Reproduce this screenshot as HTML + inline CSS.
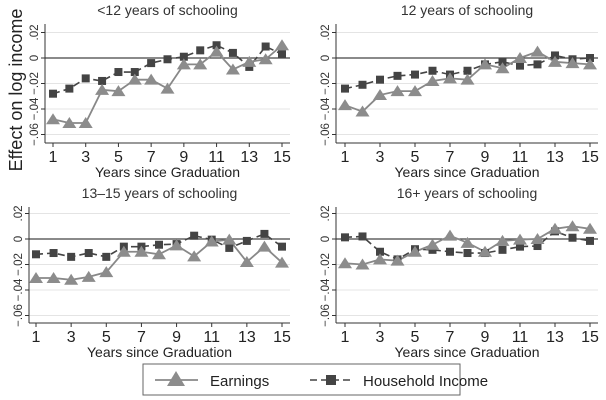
<!DOCTYPE html>
<html><head><meta charset="utf-8"><style>
html,body{margin:0;padding:0;background:#fff}
svg{display:block;font-family:"Liberation Sans",sans-serif}
</style></head><body>
<svg id="c" width="606" height="400"></svg>
<script>
const years=[1,2,3,4,5,6,7,8,9,10,11,12,13,14,15];
const xTicks=[1,3,5,7,9,11,13,15];
const yTicks=[0.02,0,-0.02,-0.04,-0.06];
const yTickLabels=[".02","0","-.02","-.04","-.06"];
const titles=["<12 years of schooling","12 years of schooling","13–15 years of schooling","16+ years of schooling"];
const earn1=[-4.8,-5.1,-5.1,-2.5,-2.6,-1.7,-1.7,-2.4,-0.5,-0.5,0.5,-0.9,-0.3,-0.1,1.0];
const hh1=[-2.8,-2.4,-1.6,-1.8,-1.1,-1.1,-0.4,-0.1,0.1,0.6,1.0,0.4,-0.7,0.9,0.3];
const earn2=[-3.7,-4.2,-2.9,-2.6,-2.6,-1.8,-1.6,-1.7,-0.5,-0.8,0,0.5,-0.3,-0.4,-0.5];
const hh2=[-2.4,-2.1,-1.7,-1.4,-1.3,-1.0,-1.3,-1.0,-0.5,-0.3,-0.6,-0.5,0.2,-0.1,0.0];
const earn3=[-3.06,-3.06,-3.2,-2.97,-2.6,-1.0,-1.0,-1.2,-0.5,-1.36,-0.2,-0.05,-1.8,-0.6,-1.85];
const hh3=[-1.2,-1.1,-1.4,-1.1,-1.4,-0.6,-0.6,-0.45,-0.4,0.26,-0.05,-0.7,-0.15,0.4,-0.6];
const earn4=[-1.9,-2.0,-1.6,-1.7,-1.0,-0.45,0.26,-0.3,-1.0,-0.15,-0.05,0,0.8,1.0,0.8];
const hh4=[0.13,0.2,-1.0,-1.6,-0.8,-0.85,-1.0,-1.1,-1.1,-0.85,-0.6,-0.55,0.6,0.1,-0.15];
const earnSeries=[earn1,earn2,earn3,earn4];
const hhSeries=[hh1,hh2,hh3,hh4];
const panels=[{ax:45,x1:53,x15:282,y0:58,top:24,bot:143},{ax:336,x1:345,x15:590,y0:58,top:24,bot:143},
{ax:29,x1:36,x15:282,y0:239,top:207,bot:323},{ax:336,x1:345,x15:590,y0:239,top:207,bot:323}];
const NS="http://www.w3.org/2000/svg";const svg=document.getElementById('c');
function el(t,a,p){const e=document.createElementNS(NS,t);for(const k in a)e.setAttribute(k,a[k]);(p||svg).appendChild(e);return e;}
const per=12.75/0.01;
panels.forEach((P,i)=>{
 const g=el('g',{});
 
 
 const X=v=>P.x1+(v-1)*(P.x15-P.x1)/14;
 const Y=v=>P.y0-v*per;
 const right=P.x15+8;
 const t=el('text',{x:(P.ax+right)/2,y:P.top-9,'text-anchor':'middle','font-size':14,fill:'#333'},g);t.textContent=titles[i];
 
 yTicks.forEach((v,k)=>{
  if(v!==0)el('line',{x1:P.ax,x2:right,y1:Y(v),y2:Y(v),stroke:'#e4e4e4','stroke-width':1},g);
  el('line',{x1:P.ax-4,x2:P.ax,y1:Y(v),y2:Y(v),stroke:'#333'},g);
  const l=el('text',{transform:`translate(${P.ax-7},${Y(v)}) rotate(-90)`,'text-anchor':'middle','font-size':11.5,fill:'#333'},g);
  l.textContent=yTickLabels[k].replace('-','−');
  
 });
 el('line',{x1:P.ax,x2:right,y1:Y(0),y2:Y(0),stroke:'#444','stroke-width':1.2},g);
 el('line',{x1:P.ax,x2:P.ax,y1:P.top,y2:P.bot,stroke:'#333'},g);
 el('line',{x1:P.ax,x2:right,y1:P.bot,y2:P.bot,stroke:'#333'},g);
 xTicks.forEach(v=>{
  el('line',{x1:X(v),x2:X(v),y1:P.bot,y2:P.bot+4,stroke:'#333'},g);
  const l=el('text',{x:X(v),y:P.bot+19,'text-anchor':'middle','font-size':16,fill:'#222'},g);l.textContent=v;
  
 });
 const xt=el('text',{x:(P.ax+right)/2,y:P.bot+34,'text-anchor':'middle','font-size':14,fill:'#222'},g);xt.textContent='Years since Graduation';
 
 const hp=hhSeries[i].map((v,j)=>X(years[j])+','+Y(v/100)).join(' ');
 const hl=el('polyline',{points:hp,fill:'none',stroke:'#444','stroke-width':1.6,'stroke-dasharray':'7,4'},g);
 
 const ep=earnSeries[i].map((v,j)=>X(years[j])+','+Y(v/100)).join(' ');
 const e=el('polyline',{points:ep,fill:'none',stroke:'#888','stroke-width':1.8},g);
 
 hhSeries[i].forEach((v,j)=>{const r=el('rect',{x:X(years[j])-4,y:Y(v/100)-4,width:8,height:8,fill:'#444'},g);
  });
 earnSeries[i].forEach((v,j)=>{const x=X(years[j]),y=Y(v/100);
  const p=el('polygon',{points:`${x},${y-6} ${x-7},${y+5} ${x+7},${y+5}`,fill:'#8c8c8c'},g);
  });
});
const yt=el('text',{transform:'translate(22,90) rotate(-90)','text-anchor':'middle','font-size':18,fill:'#222'});yt.textContent='Effect on log income';

const lg=el('g',{});
el('rect',{x:143,y:364,width:317,height:31,fill:'#fff',stroke:'#666'},lg);
el('line',{x1:155,x2:198,y1:380,y2:380,stroke:'#888','stroke-width':1.8},lg);
el('polygon',{points:'176,371 167,386 185,386',fill:'#8c8c8c'},lg);
const t1=el('text',{x:210,y:386,'font-size':15,fill:'#222'},lg);t1.textContent='Earnings';

el('line',{x1:310,x2:352,y1:380,y2:380,stroke:'#444','stroke-width':1.6,'stroke-dasharray':'7,4'},lg);
el('rect',{x:326,y:375,width:10,height:10,fill:'#444'},lg);
const t2=el('text',{x:363,y:386,'font-size':15,fill:'#222'},lg);t2.textContent='Household Income';

</script>
</body></html>
